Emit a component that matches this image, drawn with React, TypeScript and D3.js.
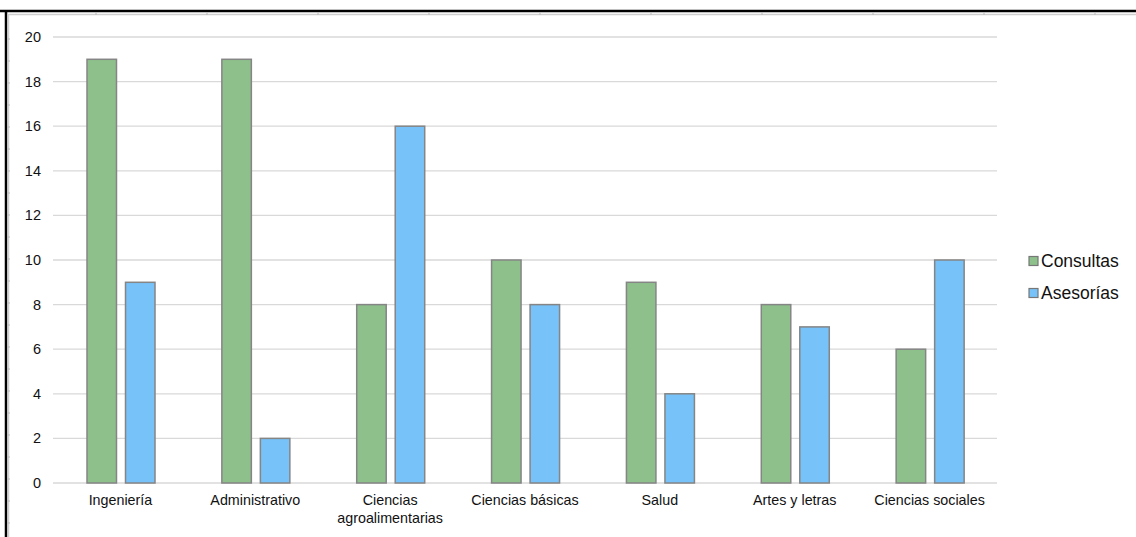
import React from "react";
import * as d3 from "d3";

const categories = ["Ingeniería", "Administrativo", "Ciencias\nagroalimentarias", "Ciencias básicas", "Salud", "Artes y letras", "Ciencias sociales"];
const consultas = [19, 19, 8, 10, 9, 8, 6];
const asesorias = [9, 2, 16, 8, 4, 7, 10];
const seriesNames = ["Consultas", "Asesorías"];
const seriesColors = ["#8dc08b", "#77c2f8"];
const yTicks = [0, 2, 4, 6, 8, 10, 12, 14, 16, 18, 20];

const W = 1136, H = 537;
const plot = { left: 53, right: 997, top: 37, bottom: 483 };
const FONT = "'Liberation Sans', Arial, Helvetica, sans-serif";

export default function App() {
  const x = d3.scaleBand<string>().domain(categories).range([plot.left, plot.right]).paddingInner(0).paddingOuter(0);
  const y = d3.scaleLinear().domain([0, 20]).range([plot.bottom, plot.top]);
  const inner = d3.scaleBand<number>().domain([0, 1]).range([34, 102]).paddingInner(0.234);
  const data = [consultas, asesorias];
  const colDividers = d3.range(96, W, 111);
  const rowDividers = d3.range(39, H, 22);

  return (
    <svg width={W} height={H} style={{ position: "absolute", left: 0, top: 0, background: "#fff" }} fontFamily={FONT}>
      {/* spreadsheet frame */}
      <line x1={0} x2={W} y1={11} y2={11} stroke="#000" strokeWidth={2.5} />
      <line x1={6} x2={6} y1={10} y2={H} stroke="#000" strokeWidth={2.5} />
      <line x1={8} x2={W} y1={14.5} y2={14.5} stroke="#cfcfcf" strokeWidth={1.5} />
      <line x1={8.5} x2={8.5} y1={14} y2={H} stroke="#cfcfcf" strokeWidth={1.5} />
      {colDividers.map((cx) => (
        <line key={"c" + cx} x1={cx} x2={cx} y1={12} y2={15} stroke="#bbb" strokeWidth={1} />
      ))}
      {rowDividers.map((ry) => (
        <line key={"r" + ry} x1={7} x2={10} y1={ry} y2={ry} stroke="#bbb" strokeWidth={1} />
      ))}

      {/* gridlines */}
      {yTicks.map((t) => (
        <g key={t}>
          <line x1={plot.left} x2={plot.right} y1={y(t)} y2={y(t)} stroke="#d9d9d9" strokeWidth={1.3} />
          <text x={41} y={y(t)} dy="0.35em" textAnchor="end" fontSize={14.5} fill="#111">{t}</text>
        </g>
      ))}

      {/* bars */}
      {categories.map((c, i) => (
        <g key={c} transform={`translate(${x(c)},0)`}>
          {data.map((s, k) => (
            <rect key={k} x={inner(k)} y={y(s[i])} width={inner.bandwidth()} height={y(0) - y(s[i])}
              fill={seriesColors[k]} stroke="#858585" strokeWidth={1.5} />
          ))}
          <text x={x.bandwidth() / 2} y={plot.bottom + 22} textAnchor="middle" fontSize={14.3} fill="#111">
            {c.split("\n").map((ln, j) => (
              <tspan key={j} x={x.bandwidth() / 2} dy={j === 0 ? 0 : 18}>{ln}</tspan>
            ))}
          </text>
        </g>
      ))}

      {/* legend */}
      {seriesNames.map((n, k) => (
        <g key={n} transform={`translate(1029,${261 + k * 32})`}>
          <rect x={0} y={-4.5} width={9} height={9} fill={seriesColors[k]} stroke="#777" strokeWidth={1.2} />
          <text x={12} y={0} dy="0.36em" fontSize={17.5} fill="#111">{n}</text>
        </g>
      ))}
    </svg>
  );
}
